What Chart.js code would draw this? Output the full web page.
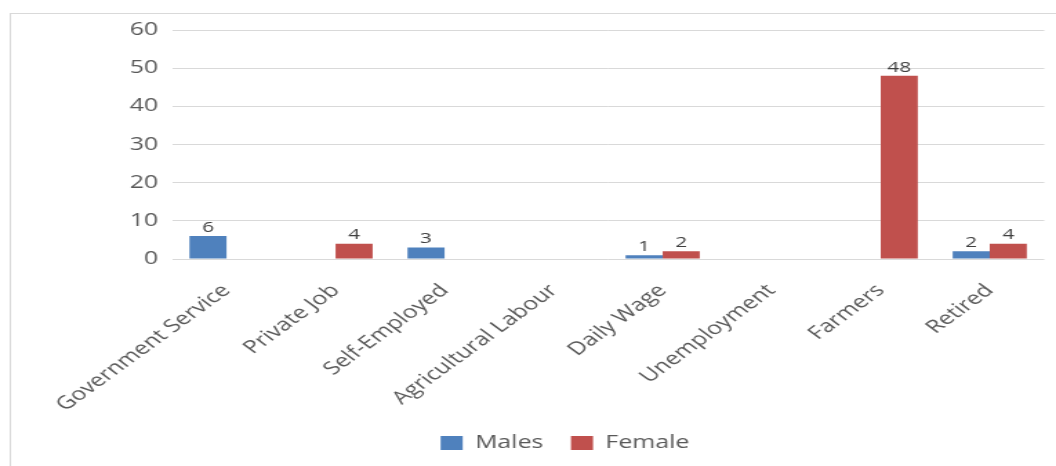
<!DOCTYPE html>
<html>
<head>
<meta charset="utf-8">
<script src="https://cdn.jsdelivr.net/npm/chart.js@4/dist/chart.umd.min.js"></script>
<style>
  html, body { margin: 0; padding: 0; background: #fff; }
  #wrap { width: 1056px; height: 466px; position: relative; overflow: hidden; }
  /* the drawing surface is laid out narrow and widened on screen */
  #c { display: block; width: 1056px; height: 466px; }
</style>
</head>
<body>
<div id="wrap"><canvas id="c" width="765" height="466" style="width:1056px;height:466px"></canvas></div>
<script>
const categories = ['Government Service', 'Private Job', 'Self-Employed', 'Agricultural Labour', 'Daily Wage', 'Unemployment', 'Farmers', 'Retired'];
const males = [6, 0, 3, 0, 1, 0, 0, 2];
const female = [0, 4, 0, 0, 2, 0, 48, 4];
const yTicks = [0, 10, 20, 30, 40, 50, 60];

const FONT = "'Open Sans', 'DejaVu Sans', sans-serif";
const LEGEND_SHIFT = 31;

// light outer frame of the chart
const framePlugin = {
  id: 'frame',
  beforeDraw(chart) {
    const ctx = chart.ctx;
    ctx.save();
    ctx.fillStyle = '#fff';
    ctx.fillRect(0, 0, chart.width, chart.height);
    ctx.strokeStyle = '#d9d9d9';
    ctx.lineWidth = 1;
    ctx.strokeRect(7.5, 13.5, 900, 500);
    ctx.restore();
  }
};

// nudge the legend row to the right of the canvas centre
const legendShift = {
  id: 'legendShift',
  afterLayout(chart) {
    if (chart.legend) {
      chart.legend.left += LEGEND_SHIFT;
      chart.legend.right += LEGEND_SHIFT;
    }
  }
};

// value labels above non-zero bars
const valueLabels = {
  id: 'valueLabels',
  afterDatasetsDraw(chart) {
    const ctx = chart.ctx;
    ctx.save();
    ctx.font = '15px ' + FONT;
    ctx.fillStyle = '#404040';
    ctx.textAlign = 'center';
    ctx.textBaseline = 'bottom';
    chart.data.datasets.forEach((ds, i) => {
      const meta = chart.getDatasetMeta(i);
      meta.data.forEach((bar, j) => {
        const v = ds.data[j];
        if (!v) return;
        ctx.fillText(String(v), bar.x, bar.y - 1);
      });
    });
    ctx.restore();
  }
};

new Chart(document.getElementById('c'), {
  type: 'bar',
  data: {
    labels: categories,
    datasets: [
      { label: 'Males', data: males, backgroundColor: '#4F81BD', borderWidth: 0 },
      { label: 'Female', data: female, backgroundColor: '#C0504D', borderWidth: 0 }
    ]
  },
  options: {
    responsive: false,
    animation: false,
    devicePixelRatio: 1,
    categoryPercentage: 0.68,
    barPercentage: 1,
    layout: { padding: { top: 30, right: 8.5, left: 0, bottom: 4 } },
    plugins: {
      tooltip: { enabled: false },
      legend: {
        position: 'bottom',
        labels: {
          font: { family: FONT, size: 18 },
          color: '#595959',
          boxWidth: 16,
          boxHeight: 14,
          padding: 20
        }
      }
    },
    scales: {
      x: {
        grid: { display: false },
        border: { display: false },
        ticks: {
          font: { family: FONT, size: 18 },
          color: '#595959',
          minRotation: 45,
          maxRotation: 45,
          autoSkip: false,
          padding: 13
        },
        afterFit(scale) { scale.height = 155; }
      },
      y: {
        min: 0,
        max: 60,
        afterBuildTicks(scale) { scale.ticks = yTicks.map(v => ({ value: v })); },
        grid: { color: '#d9d9d9', drawTicks: false, lineWidth: 1 },
        border: { display: false },
        ticks: {
          font: { family: FONT, size: 18 },
          color: '#595959',
          padding: 10
        },
        afterFit(scale) { scale.width = 124.6; }
      }
    }
  },
  plugins: [framePlugin, legendShift, valueLabels]
});
</script>
</body>
</html>
